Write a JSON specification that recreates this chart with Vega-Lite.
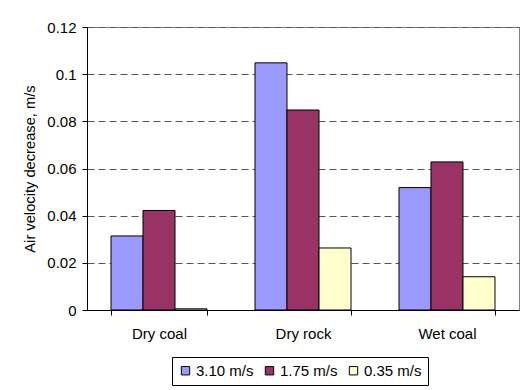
{
  "$schema": "https://vega.github.io/schema/vega-lite/v6.json",
  "autosize": "none",
  "width": 432,
  "height": 283,
  "padding": {"left": 87, "top": 27, "right": 4, "bottom": 80},
  "background": "white",
  "config": {
    "font": "Liberation Sans",
    "view": {"stroke": "#808080", "strokeWidth": 1},
    "axis": {"labelFont": "Liberation Sans", "titleFont": "Liberation Sans", "labelColor": "black", "titleColor": "black"}
  },
  "data": {
    "values": [
      {"material": "Dry coal", "speed": "3.10 m/s", "value": 0.0314},
      {"material": "Dry coal", "speed": "1.75 m/s", "value": 0.0422},
      {"material": "Dry coal", "speed": "0.35 m/s", "value": 0.0005},
      {"material": "Dry rock", "speed": "3.10 m/s", "value": 0.1048},
      {"material": "Dry rock", "speed": "1.75 m/s", "value": 0.0848},
      {"material": "Dry rock", "speed": "0.35 m/s", "value": 0.0263},
      {"material": "Wet coal", "speed": "3.10 m/s", "value": 0.0519},
      {"material": "Wet coal", "speed": "1.75 m/s", "value": 0.0628},
      {"material": "Wet coal", "speed": "0.35 m/s", "value": 0.0141}
    ]
  },
  "mark": {"type": "bar", "stroke": "black", "strokeWidth": 1},
  "encoding": {
    "x": {
      "field": "material", "type": "nominal", "title": null,
      "scale": {"paddingInner": 0.3333, "paddingOuter": 0.1667},
      "axis": {"labelAngle": 0, "labelFontSize": 15, "domainColor": "black", "tickColor": "black", "tickSize": 5, "tickBand": "extent", "labelPadding": 11, "grid": false}
    },
    "xOffset": {"field": "speed", "type": "nominal", "sort": ["3.10 m/s", "1.75 m/s", "0.35 m/s"], "scale": {"paddingInner": 0, "paddingOuter": 0}},
    "y": {
      "field": "value", "type": "quantitative",
      "title": "Air velocity decrease, m/s",
      "scale": {"domain": [0, 0.12], "nice": false},
      "axis": {"values": [0, 0.02, 0.04, 0.06, 0.08, 0.1, 0.12], "labelExpr": "datum.value == 0 ? '0' : format(datum.value, '.2~f')", "labelFontSize": 15, "titleFontSize": 14.7, "titleFontWeight": "normal", "domainColor": "black", "tickColor": "black", "tickSize": 5, "labelPadding": 6, "titlePadding": 9, "grid": true, "gridColor": "#555555", "gridDash": [7, 4], "gridWidth": 1}
    },
    "color": {
      "field": "speed", "type": "nominal", "sort": ["3.10 m/s", "1.75 m/s", "0.35 m/s"],
      "scale": {"domain": ["3.10 m/s", "1.75 m/s", "0.35 m/s"], "range": ["#9999FF", "#993366", "#FFFFCC"]},
      "legend": {"orient": "none", "legendX": 85, "legendY": 330, "direction": "horizontal", "title": null, "symbolType": "square", "symbolSize": 70, "symbolStrokeColor": "black", "symbolStrokeWidth": 1, "labelFontSize": 15, "labelFont": "Liberation Sans", "labelColor": "black", "strokeColor": "black", "padding": 6, "columnPadding": 8, "labelOffset": 3}
    }
  }
}
